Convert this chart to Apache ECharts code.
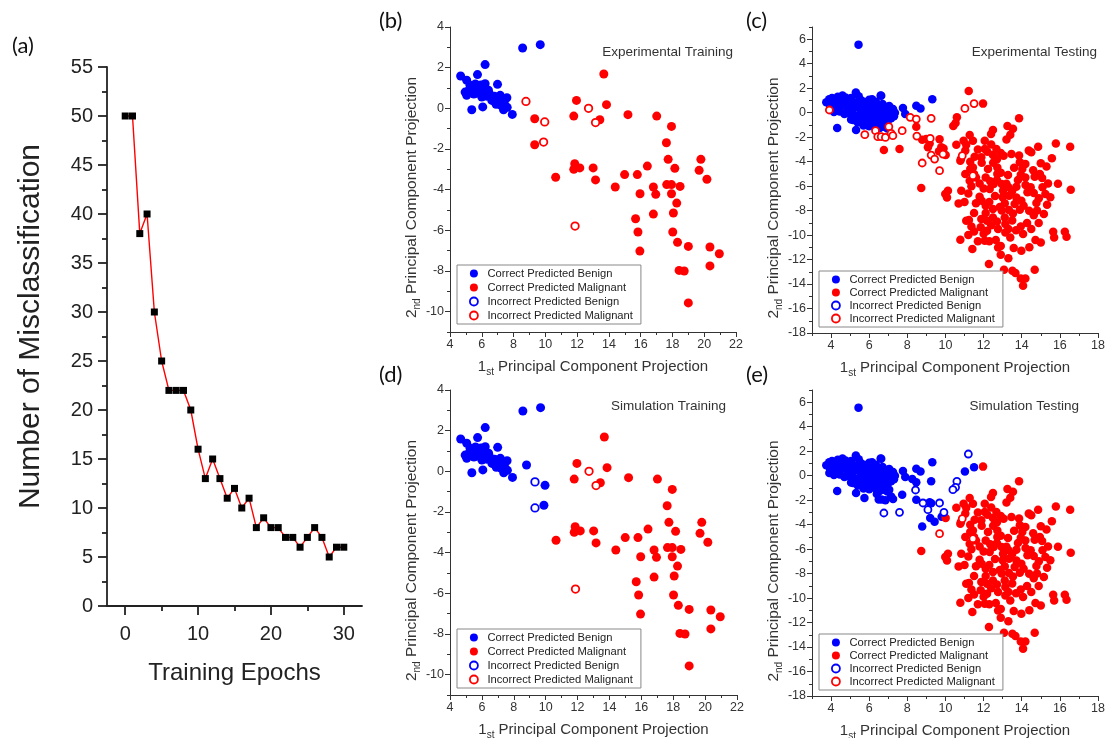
<!DOCTYPE html>
<html>
<head>
<meta charset="utf-8">
<script src="https://cdn.jsdelivr.net/npm/echarts@6/dist/echarts.min.js"></script>
<style>
  html, body { margin: 0; padding: 0; background: #fff; }
  #chart { width: 1110px; height: 738px; }
</style>
</head>
<body>
<div id="chart"></div>
<script>
// ---------- (a) misclassification vs. training epochs ----------
const epochs = [0,1,2,3,4,5,6,7,8,9,10,11,12,13,14,15,16,17,18,19,20,21,22,23,24,25,26,27,28,29,30];
const misclassified = [50,50,38,40,30,25,22,22,22,20,16,13,15,13,11,12,10,11,8,9,8,8,7,7,6,7,8,7,5,6,6];
const epochTicks = [0,10,20,30];
const epochMinorTicks = [5,15,25];
const missTicks = [0,5,10,15,20,25,30,35,40,45,50,55];
const missMinorTicks = [2.5,7.5,12.5,17.5,22.5,27.5,32.5,37.5,42.5,47.5,52.5];

// ---------- tick labels of the PCA panels ----------
const trainXTicks = [4,6,8,10,12,14,16,18,20,22];
const trainXMinor = [5,7,9,11,13,15,17,19,21];
const trainYTicks = [-10,-8,-6,-4,-2,0,2,4];
const trainYMinor = [-11,-9,-7,-5,-3,-1,1,3];
const testXTicks = [4,6,8,10,12,14,16,18];
const testXMinor = [3,5,7,9,11,13,15,17];
const testYTicks = [-18,-16,-14,-12,-10,-8,-6,-4,-2,0,2,4,6];
const testYMinor = [-17,-15,-13,-11,-9,-7,-5,-3,-1,1,3,5,7];

const legendNames = ['Correct Predicted Benign','Correct Predicted Malignant','Incorrect Predicted Benign','Incorrect Predicted Malignant'];

// ---------- training set projections (b, d) ----------
const trainBenignCore = [[4.67,1.59],[5.05,1.38],[4.95,0.8],[5.05,0.64],[5.26,1.13],[5.73,1.66],[6.21,2.15],[5.47,1.05],[5.89,0.89],[6.0,0.56],[6.21,1.21],[6.42,0.89],[6.63,0.39],[6.99,1.18],[7.16,0.64],[7.58,0.52],[7.37,-0.07],[7.92,-0.3],[5.37,-0.07],[6.06,0.07],[8.57,2.97],[9.68,3.13],[5.6,1.2],[5.8,1.1],[6.1,0.95],[6.5,0.7],[6.8,0.6],[7.0,0.4],[7.4,0.3],[7.6,0.05],[5.2,0.9],[5.7,0.75],[6.3,0.6],[6.9,0.2],[7.2,0.15],[5.95,1.15],[5.5,0.7]];
const trainMalignantCore = [[13.68,1.69],[11.96,0.39],[13.85,0.18],[11.79,-0.38],[13.43,-0.56],[15.2,-0.31],[17.01,-0.38],[17.94,-0.89],[17.62,-1.69],[17.73,-2.51],[19.79,-2.51],[19.68,-3.05],[20.17,-3.49],[18.15,-2.95],[16.42,-2.84],[15.79,-3.26],[14.99,-3.26],[11.85,-2.72],[11.79,-3.0],[12.17,-2.93],[13.01,-2.93],[13.16,-3.52],[10.65,-3.39],[14.4,-3.87],[15.96,-4.2],[16.8,-3.87],[16.95,-4.23],[17.64,-3.75],[17.94,-3.75],[18.48,-3.84],[17.94,-4.2],[18.27,-4.66],[18.06,-5.15],[16.8,-5.2],[15.68,-5.43],[15.83,-6.08],[18.02,-6.08],[18.32,-6.59],[15.95,-7.02],[19.0,-6.79],[20.36,-6.82],[20.95,-7.15],[20.36,-7.75],[18.42,-7.97],[18.74,-8.0],[19.0,-9.57]];

const expTrainMalignantExtra = [[9.33,-0.51],[9.33,-1.79]];
const expTrainBenignMiss = [];
const expTrainMalignantMiss = [[8.78,0.34],[9.96,-0.67],[9.89,-1.66],[12.72,0.0],[13.16,-0.7],[11.87,-5.79]];

const simTrainBenignExtra = [[8.8,0.31],[9.96,-0.69],[9.89,-1.67]];
const simTrainBenignMiss = [[9.33,-0.52],[9.33,-1.8]];
const simTrainMalignantMiss = [[12.72,0.0],[13.16,-0.7],[11.87,-5.79]];

// ---------- testing set projections (c, e) ----------
const testBenignCore = [[3.75,0.85],[3.9,1.1],[4.05,1.2],[4.2,0.95],[4.35,1.3],[4.5,1.15],[4.6,1.4],[4.75,1.25],[4.9,1.05],[5.05,1.2],[5.3,1.65],[5.45,1.35],[5.6,1.0],[5.8,0.85],[6.0,1.05],[6.15,1.1],[6.35,0.9],[6.6,1.4],[6.7,0.7],[6.9,0.45],[7.05,0.55],[7.25,0.3],[7.35,0.0],
  [3.95,0.5],[4.1,0.7],[4.25,0.35],[4.4,0.75],[4.55,0.55],[4.7,0.85],[4.85,0.4],[5.0,0.7],[5.15,0.3],[5.3,0.8],[5.45,0.45],[5.6,0.25],[5.75,0.55],[5.9,0.2],[6.05,0.6],[6.2,0.3],[6.35,0.45],[6.5,0.1],[6.65,0.3],[6.8,-0.05],[6.95,0.15],[7.1,-0.2],[7.2,0.1],
  [4.15,0.05],[4.45,0.1],[4.7,-0.1],[4.95,-0.05],[5.05,-0.55],[5.25,-0.25],[5.5,-0.1],[5.6,-0.6],[5.8,-0.3],[5.95,-0.7],[6.1,-0.15],[6.25,-0.5],[6.4,-0.3],[6.5,-0.85],[6.6,-0.55],[6.75,-0.4],[6.85,-0.9],[7.0,-0.6],[7.15,-0.45],[7.3,-0.3],[5.7,-1.05],[6.0,-1.1],[6.3,-1.0],[6.55,-1.25],[6.75,-1.15],[6.95,-1.3],[5.4,-0.8],[5.15,-0.6],
  [4.32,-1.25],[5.31,-1.42],[5.44,5.56],[9.31,1.09],[8.47,0.57],[8.69,0.35],[7.77,0.38],[7.89,-0.11],[6.63,1.39]];
const testMalignantCore = [[11.97,0.74],[13.86,-0.46],[13.25,-1.09],[12.49,-1.42],[12.39,-1.74],[13.54,-1.31],[13.4,-1.8],[11.27,-1.83],[10.95,-2.29],[11.44,-2.29],[10.57,-2.62],[11.09,-2.62],[11.04,-3.1],[12.06,-2.29],[12.06,-2.97],[12.2,-3.2],[12.67,-2.97],[13.05,-3.52],[12.49,-3.46],[11.88,-3.65],[11.53,-3.6],[10.81,-3.79],[10.78,-3.92],[13.86,-3.49],[13.46,-3.38],[14.37,-3.1],[14.86,-2.78],[15.79,-2.51],[16.54,-2.78],[15.58,-3.73],[15.0,-4.14],[14.19,-4.2],[13.9,-4.06],[14.03,-4.6],[13.95,-5.07],[14.19,-5.29],[14.68,-5.23],[14.95,-5.01],[13.28,-5.1],[12.72,-4.47],[12.72,-5.01],[12.23,-4.6],[12.11,-5.29],[11.44,-4.47],[11.5,-5.01],[11.04,-5.01],[11.27,-5.56],[11.36,-6.02],[10.83,-6.38],[11.79,-5.78],[11.79,-6.87],[12.32,-6.24],[12.53,-5.83],[12.95,-5.83],[13.02,-6.38],[13.33,-6.78],[13.72,-6.05],[13.72,-6.92],[14.47,-6.1],[14.63,-6.57],[15.09,-6.1],[15.38,-5.78],[15.24,-6.65],[14.77,-7.38],[15.33,-7.52],[15.16,-8.28],[14.89,-9.02],[14.63,-8.37],[14.39,-8.01],[13.98,-7.19],[13.9,-7.93],[13.63,-7.47],[13.54,-8.23],[13.33,-7.96],[13.11,-7.41],[13.11,-8.56],[13.14,-9.1],[13.14,-9.78],[12.76,-9.51],[12.76,-11.01],[12.64,-10.41],[12.49,-8.56],[12.49,-7.87],[12.11,-7.6],[12.11,-8.2],[12.18,-8.83],[12.18,-9.65],[12.06,-10.46],[11.88,-8.69],[11.85,-9.37],[11.36,-9.29],[11.5,-9.7],[11.23,-8.77],[11.09,-8.83],[11.41,-11.14],[10.78,-10.38],[10.13,-6.38],[9.99,-6.65],[10.08,-6.92],[10.69,-7.41],[12.28,-12.37],[13.07,-12.83],[13.51,-12.92],[13.67,-13.1],[13.95,-13.54],[14.19,-13.54],[14.07,-14.14],[14.68,-12.83],[13.98,-11.28],[13.58,-11.06],[14.07,-9.92],[13.95,-9.29],[14.28,-9.02],[14.72,-10.41],[15.0,-10.6],[15.65,-9.73],[15.7,-10.19],[16.26,-9.73],[16.35,-10.14],[16.57,-6.29],[15.07,-5.34],[14.5,-3.24],[10.01,-3.46],[8.73,-6.16],
  [12.9,-4.9],[12.35,-5.6],[12.6,-6.8],[12.85,-7.7],[13.3,-6.1],[12.4,-9.2],[12.95,-8.0],[13.5,-8.8],[11.6,-7.4],[11.0,-7.3],[11.2,-6.6],[12.0,-6.2],[13.8,-5.5],[14.3,-6.5],[14.1,-7.6],[14.8,-8.0],[15.5,-6.9],[15.9,-5.8],[15.3,-4.4],[14.6,-4.7],[12.7,-3.8],[11.9,-4.1],[11.3,-4.0],[12.3,-10.5],[11.7,-10.5],[13.4,-10.2],[12.9,-10.9],[14.4,-11.0],
  [11.7,-3.0],[12.4,-2.6],[13.2,-2.2],[12.9,-3.3],[11.3,-4.6],[12.5,-4.1],[13.6,-4.5],[13.2,-5.8],[12.7,-5.5],[11.6,-5.3],[11.9,-7.2],[12.3,-7.3],[13.0,-6.9],[13.5,-6.4],[14.9,-7.0],[14.2,-5.9],[11.5,-8.2],[12.7,-8.9],[13.3,-9.5],[12.0,-9.9],[13.7,-9.6],[14.5,-9.5],[11.2,-10.0],[12.9,-11.6],[13.3,-11.9]];
const testMalignantMissCore = [[9.69,-4.74],[10.88,-3.51],[11.44,-5.15]];

const expTestMalignantExtra = [[11.22,1.77],[8.47,-1.14],[8.78,-2.21],[8.99,-2.15],[9.17,-2.51],[9.08,-2.83],[9.66,-3.16],[9.78,-2.83],[6.77,-3.05],[7.59,-2.97],[9.69,-2.18],[9.9,-2.92],[10.6,-0.38],[10.53,-0.84],[10.41,-1.09]];
const expTestBenignMiss = [];
const expTestMalignantMissExtra = [[3.91,0.22],[5.77,-1.8],[6.33,-1.47],[6.45,-1.96],[6.63,-1.96],[6.85,-2.02],[7.03,-1.14],[7.15,-1.69],[7.24,-1.88],[7.73,-1.47],[8.15,-0.38],[8.47,-0.52],[9.25,-0.46],[8.5,-1.91],[9.2,-2.1],[9.25,-3.46],[9.43,-3.79],[8.78,-4.11],[9.87,-3.38],[11.5,0.74],[11.02,0.35]];

const simTestBenignExtra = [[3.91,0.22],[5.75,-1.82],[6.4,-1.5],[6.5,-1.95],[6.65,-1.95],[6.85,-2.0],[7.05,-1.15],[7.15,-1.7],[7.25,-1.9],[7.73,-1.55],[8.26,-0.27],[8.47,-0.54],[9.25,-0.46],[8.47,-1.96],[9.17,-2.18],[9.25,-2.26],[9.2,-3.46],[9.43,-3.76],[9.8,-3.35],[8.78,-4.16],[11.02,0.35],[11.5,0.68]];
const simTestBenignMiss = [[11.2,1.77],[10.6,-0.46],[10.53,-0.95],[10.39,-1.14],[8.43,-1.17],[8.82,-2.23],[9.08,-2.78],[9.69,-2.23],[9.92,-2.99],[6.77,-3.05],[7.59,-2.99]];

// ---------- styling ----------
const FONT = 'Liberation Sans, Arial, sans-serif';
const BLUE = '#0000ff';
const RED = '#ff0000';
const AXIS = '#333';

const gridBoxes = [
  { left: 107, top: 67, width: 255, height: 539 },
  { left: 450, top: 27, width: 286, height: 305 },
  { left: 812, top: 27, width: 286, height: 306 },
  { left: 450, top: 390, width: 287, height: 305 },
  { left: 812, top: 390, width: 286, height: 306 }
];

function axisPair(dim, gridIndex, c) {
  const position = dim === 'x' ? 'bottom' : 'left';
  const lineStyle = { color: c.color, width: c.width };
  const main = {
    type: 'value', gridIndex, min: c.min, max: c.max, position,
    axisLine: { show: true, onZero: false, lineStyle },
    axisTick: { show: true, customValues: c.major, length: c.majorLen, lineStyle },
    axisLabel: { show: true, customValues: c.major, fontSize: c.fontSize, color: c.labelColor, margin: c.margin, fontFamily: FONT },
    splitLine: { show: false },
    name: c.name, nameLocation: 'middle', nameGap: c.nameGap, nameTextStyle: c.nameStyle
  };
  const minor = {
    type: 'value', gridIndex, min: c.min, max: c.max, position,
    axisLine: { show: false, onZero: false },
    axisTick: { show: true, customValues: c.minor, length: c.minorLen, lineStyle },
    axisLabel: { show: false },
    splitLine: { show: false }
  };
  return [main, minor];
}

// axis titles with a lowered ordinal suffix (1st / 2nd)
function pcaNameStyle(size, padding) {
  return {
    color: '#333', fontFamily: FONT, fontSize: size, padding,
    rich: {
      m: { fontSize: size, fontFamily: FONT, color: '#333', verticalAlign: 'top' },
      s: { fontSize: 10, fontFamily: FONT, color: '#333', verticalAlign: 'top', padding: [8, 0, 0, 0] }
    }
  };
}
const xPcaName = '{m|1}{s|st}{m| Principal Component Projection}';
const yPcaName = '{m|2}{s|nd}{m| Principal Component Projection}';

function pcaAxes(gridIndex, xr, yr, xMajor, xMinor, yMajor, yMinor, yGap) {
  const common = { color: AXIS, width: 1, majorLen: 5, minorLen: 3, fontSize: 12.5, labelColor: '#333', margin: 6 };
  const xs = axisPair('x', gridIndex, Object.assign({}, common, { min: xr[0], max: xr[1], major: xMajor, minor: xMinor,
    name: xPcaName, nameGap: 27, nameStyle: pcaNameStyle(15, 0) }));
  const ys = axisPair('y', gridIndex, Object.assign({}, common, { min: yr[0], max: yr[1], major: yMajor, minor: yMinor,
    name: yPcaName, nameGap: yGap, nameStyle: pcaNameStyle(15.5, [0, 36, 0, 0]) }));
  return { xs, ys };
}

const xAxes = [];
const yAxes = [];

// panel (a)
const aCommon = { color: '#222', width: 1.8, majorLen: 9, minorLen: 5, fontSize: 20, labelColor: '#222' };
xAxes.push(...axisPair('x', 0, Object.assign({}, aCommon, { min: -2.5, max: 32.5, major: epochTicks, minor: epochMinorTicks, margin: 18,
  name: 'Training Epochs', nameGap: 55, nameStyle: { fontSize: 24, color: '#222', fontFamily: FONT } })));
yAxes.push(...axisPair('y', 0, Object.assign({}, aCommon, { min: 0, max: 55, major: missTicks, minor: missMinorTicks, margin: 14,
  name: 'Number of Misclassification', nameGap: 61, nameStyle: { fontSize: 30, color: '#222', fontFamily: FONT, padding: [0, 0, 0, 20] } })));

// panels (b)-(e)
const panelAxes = [
  pcaAxes(1, [4, 22], [-11, 4], trainXTicks, trainXMinor, trainYTicks, trainYMinor, 24),
  pcaAxes(2, [3, 18], [-18, 7], testXTicks, testXMinor, testYTicks, testYMinor, 26),
  pcaAxes(3, [4, 22], [-11, 4], trainXTicks, trainXMinor, trainYTicks, trainYMinor, 24),
  pcaAxes(4, [3, 18], [-18, 7], testXTicks, testXMinor, testYTicks, testYMinor, 26)
];
panelAxes.forEach(p => { xAxes.push(...p.xs); yAxes.push(...p.ys); });

// series builders
function filled(name, axisIdx, data, size) {
  return { type: 'scatter', name, xAxisIndex: axisIdx, yAxisIndex: axisIdx, data, symbol: 'circle', symbolSize: size,
    itemStyle: { color: name.indexOf('Benign') >= 0 ? BLUE : RED, opacity: 1 }, emphasis: { disabled: true }, z: 2 };
}
function hollow(name, axisIdx, data, size) {
  return { type: 'scatter', name, xAxisIndex: axisIdx, yAxisIndex: axisIdx, data, symbol: 'circle', symbolSize: size,
    itemStyle: { color: '#fff', borderColor: name.indexOf('Benign') >= 0 ? BLUE : RED, borderWidth: 1.8, opacity: 1 }, emphasis: { disabled: true }, z: 3 };
}

const panelData = [
  { axis: 2, size: 9, benign: trainBenignCore, malignant: trainMalignantCore.concat(expTrainMalignantExtra), benignMiss: expTrainBenignMiss, malignantMiss: expTrainMalignantMiss },
  { axis: 4, size: 8.5, benign: testBenignCore, malignant: testMalignantCore.concat(expTestMalignantExtra), benignMiss: expTestBenignMiss, malignantMiss: testMalignantMissCore.concat(expTestMalignantMissExtra) },
  { axis: 6, size: 9, benign: trainBenignCore.concat(simTrainBenignExtra), malignant: trainMalignantCore, benignMiss: simTrainBenignMiss, malignantMiss: simTrainMalignantMiss },
  { axis: 8, size: 8.5, benign: testBenignCore.concat(simTestBenignExtra), malignant: testMalignantCore, benignMiss: simTestBenignMiss, malignantMiss: testMalignantMissCore }
];

const series = [{
  type: 'line', name: 'Misclassification', xAxisIndex: 0, yAxisIndex: 0,
  data: epochs.map((e, i) => [e, misclassified[i]]),
  symbol: 'rect', symbolSize: 7, showAllSymbol: true,
  lineStyle: { color: RED, width: 1.4 },
  itemStyle: { color: '#000' },
  emphasis: { disabled: true }, z: 2
}];
panelData.forEach(p => {
  series.push(filled(legendNames[0], p.axis, p.benign, p.size));
  series.push(filled(legendNames[1], p.axis, p.malignant, p.size));
  series.push(hollow(legendNames[2], p.axis, p.benignMiss, p.size - 1.5));
  series.push(hollow(legendNames[3], p.axis, p.malignantMiss, p.size - 1.5));
});

const legendItems = [
  { name: legendNames[0], icon: 'circle', itemStyle: { color: BLUE } },
  { name: legendNames[1], icon: 'circle', itemStyle: { color: RED } },
  { name: legendNames[2], icon: 'circle', itemStyle: { color: '#fff', borderColor: BLUE, borderWidth: 1.8 } },
  { name: legendNames[3], icon: 'circle', itemStyle: { color: '#fff', borderColor: RED, borderWidth: 1.8 } }
];
function legendAt(left, top, gap) {
  return {
    left, top, orient: 'vertical', itemGap: gap, itemWidth: 9, itemHeight: 8,
    padding: [3, 8, 3, 12], borderColor: '#888', borderWidth: 1, backgroundColor: '#fff',
    selectedMode: false, textStyle: { fontSize: 11.2, color: '#222', fontFamily: FONT, padding: [0, 0, 0, 4] },
    data: legendItems
  };
}

function label(text, left, top) {
  return { type: 'text', left, top, style: { text, fontSize: 22, fill: '#111', fontFamily: 'Lato, Open Sans, sans-serif' } };
}
function panelTitle(text, right, top) {
  return { type: 'text', right, top, style: { text, fontSize: 13.5, fill: '#333', fontFamily: FONT } };
}

const chart = echarts.init(document.getElementById('chart'), null, { renderer: 'canvas' });
chart.setOption({
  animation: false,
  backgroundColor: '#fff',
  grid: gridBoxes.map(g => Object.assign({ containLabel: false, outerBoundsMode: 'none' }, g)),
  xAxis: xAxes,
  yAxis: yAxes,
  legend: [legendAt(457, 265, 3), legendAt(819, 271, 2), legendAt(457, 629, 3), legendAt(819, 634, 2)],
  series,
  graphic: [
    label('(a)', 12, 35),
    label('(b)', 379, 10),
    label('(c)', 746, 10),
    label('(d)', 379, 364),
    label('(e)', 746, 364),
    panelTitle('Experimental Training', 377, 45),
    panelTitle('Experimental Testing', 13, 45),
    panelTitle('Simulation Training', 384, 399),
    panelTitle('Simulation Testing', 31, 399)
  ]
});
</script>
</body>
</html>
